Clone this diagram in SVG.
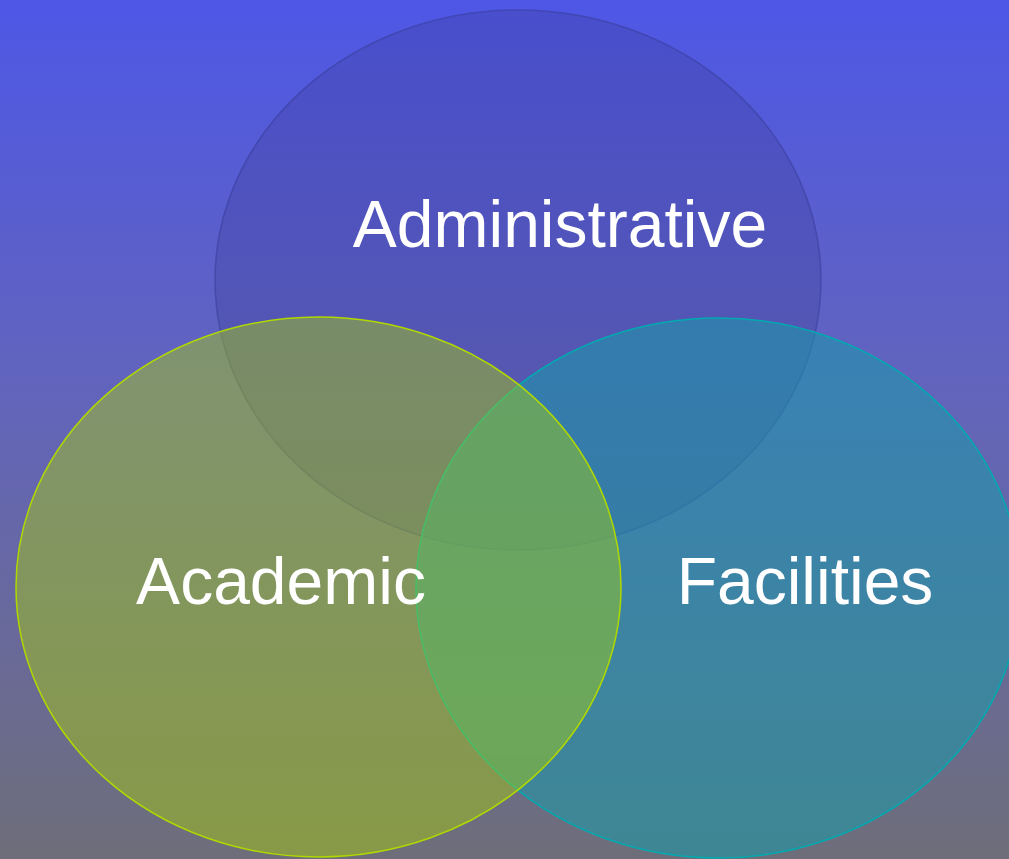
<svg xmlns="http://www.w3.org/2000/svg" width="1009" height="859" viewBox="0 0 1009 859">
<defs>
<linearGradient id="bg" x1="0" y1="0" x2="0" y2="1">
<stop offset="0" stop-color="#4e57e6"/>
<stop offset="0.45" stop-color="#6264bc"/>
<stop offset="1" stop-color="#6e6e7a"/>
</linearGradient>
</defs>
<style>
.lbl{font-family:"Liberation Sans",Arial,sans-serif;font-size:66px;fill:#ffffff;text-anchor:middle}
</style>
<rect width="1009" height="859" fill="url(#bg)"/>
<g id="administrative">
<ellipse cx="518" cy="280" rx="303" ry="270" fill="#3c3c96" fill-opacity="0.3" stroke="#3a3f9c" stroke-opacity="0.6" stroke-width="1.5"/>
</g>
<g id="facilities">
<ellipse cx="718" cy="588" rx="302" ry="270" fill="#1a9aaa" fill-opacity="0.55" stroke="#00aab0" stroke-width="1.5"/>
</g>
<g id="academic">
<ellipse cx="318.5" cy="587" rx="302.5" ry="270" fill="#acd700" fill-opacity="0.42" stroke="#b0d800" stroke-width="1.5"/>
</g>
<g id="connectors"/>
<text class="lbl" x="560" y="247">Administrative</text>
<text class="lbl" x="281" y="604">Academic</text>
<text class="lbl" x="805" y="604">Facilities</text>
</svg>
